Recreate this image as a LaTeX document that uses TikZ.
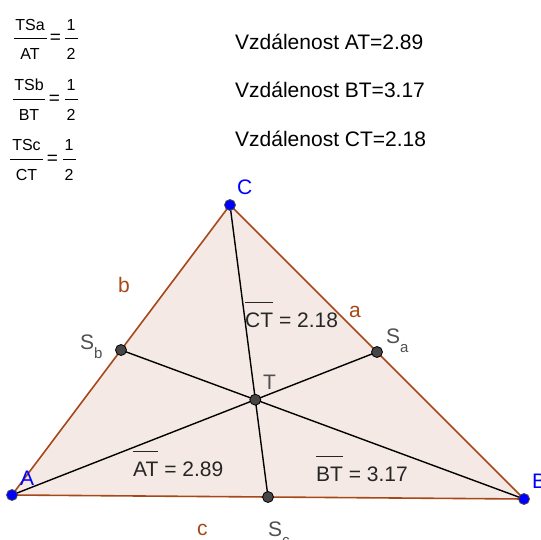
\documentclass[tikz,border=0pt]{standalone}
\usepackage{fontspec}
\setmainfont{Liberation Sans}
\usetikzlibrary{calc}
\definecolor{edgebrown}{RGB}{166,72,24}
\definecolor{fillpink}{RGB}{244,233,228}
\definecolor{ptblue}{RGB}{0,0,255}
\definecolor{ptgray}{RGB}{70,70,70}
\definecolor{lblgray}{RGB}{80,80,80}
\newcommand\myovl[1]{\setbox0\hbox{#1}\rlap{\rule[1.12em]{\wd0}{1pt}}\box0\relax}
\newcommand\mysub[1]{\raisebox{-0.45em}{\fontsize{15}{15}\selectfont #1}}
\tikzset{
  edge/.style={draw=edgebrown,line width=1.6pt},
  median/.style={draw=black,line width=1.4pt},
  vertexpt/.style={circle,fill=ptblue,draw=black!70,line width=0.8pt,inner sep=0pt,minimum size=11pt},
  midpt/.style={circle,fill=ptgray,draw=black,line width=0.8pt,inner sep=0pt,minimum size=11pt},
  lbl/.style={anchor=base west,inner sep=0pt,font=\fontsize{21}{24}\selectfont},
  vlabel/.style={lbl,text=ptblue},
  slabel/.style={lbl,text=lblgray},
  elabel/.style={lbl,text=edgebrown},
  dlabel/.style={lbl,text=black!85},
  infotext/.style={lbl,text=black},
  fractext/.style={anchor=base,inner sep=0pt,font=\fontsize{16}{17}\selectfont},
  fracrule/.style={draw=black,line width=1pt}
}
\begin{document}
\begin{tikzpicture}[x=1pt,y=-1pt]
\useasboundingbox (0,0) rectangle (540,540);
\fill[white] (0,0) rectangle (540,540);
% points
\coordinate (A) at (12,495);
\coordinate (B) at (524,499);
\coordinate (C) at (230,205);
\coordinate (T) at (255.3,399.7);
\coordinate (Sa) at ($(B)!0.5!(C)$);
\coordinate (Sb) at ($(A)!0.5!(C)$);
\coordinate (Sc) at ($(A)!0.5!(B)$);
% triangle
\fill[fillpink] (A) -- (B) -- (C) -- cycle;
\draw[edge] (A) -- (B);
\draw[edge] (B) -- (C);
\draw[edge] (C) -- (A);
% medians
\draw[median] (A) -- (Sa);
\draw[median] (B) -- (Sb);
\draw[median] (C) -- (Sc);
% point markers
\node[vertexpt] (pA) at (A) {};
\node[vertexpt] (pB) at (B) {};
\node[vertexpt] (pC) at (C) {};
\node[midpt] (pT) at (T) {};
\node[midpt] (pSa) at (Sa) {};
\node[midpt] (pSb) at (Sb) {};
\node[midpt] (pSc) at (Sc) {};
% labels
\node[vlabel] (lA) at (20,485) {A};
\node[vlabel] (lB) at (532,488) {B};
\node[vlabel] (lC) at (237,194) {C};
\node[slabel] (lT) at (263,389) {T};
\node[slabel] (lSa) at (386,343) {S\mysub{a}};
\node[slabel] (lSb) at (80,349) {S\mysub{b}};
\node[slabel] (lSc) at (268,536) {S\mysub{c}};
\node[elabel] (la) at (349,317) {a};
\node[elabel] (lb) at (118,292) {b};
\node[elabel] (lc) at (197,535) {c};
\node[dlabel] (dAT) at (133,476) {\myovl{AT} = 2.89};
\node[dlabel] (dBT) at (316,481) {\myovl{BT} = 3.17};
\node[dlabel] (dCT) at (245,327) {\myovl{CT} = 2.18};
% info texts
\node[infotext] (i1) at (235,50) {Vzdálenost AT=2.89};
\node[infotext] (i2) at (235,98) {Vzdálenost BT=3.17};
\node[infotext] (i3) at (235,147) {Vzdálenost CT=2.18};
% fractions
\node[fractext] (n1) at (30,31) {TSa};
\coordinate (r1a) at (14,39); \coordinate (r1b) at (47,39);
\draw[fracrule] (r1a) -- (r1b);
\node[fractext] (d1) at (30,60) {AT};
\node[fractext,anchor=center,font=\fontsize{19}{19}\selectfont] (e1) at (55.5,39) {=};
\node[fractext] (n1b) at (71,31) {1};
\coordinate (r1c) at (65,39); \coordinate (r1d) at (78,39);
\draw[fracrule] (r1c) -- (r1d);
\node[fractext] (d1b) at (71,60) {2};
%
\node[fractext] (n2) at (29,91) {TSb};
\coordinate (r2a) at (13,100); \coordinate (r2b) at (45,100);
\draw[fracrule] (r2a) -- (r2b);
\node[fractext] (d2) at (29,121) {BT};
\node[fractext,anchor=center,font=\fontsize{19}{19}\selectfont] (e2) at (54.5,100) {=};
\node[fractext] (n2b) at (71,91) {1};
\coordinate (r2c) at (65,100); \coordinate (r2d) at (78,100);
\draw[fracrule] (r2c) -- (r2d);
\node[fractext] (d2b) at (71,121) {2};
%
\node[fractext] (n3) at (26.5,150) {TSc};
\coordinate (r3a) at (10,160); \coordinate (r3b) at (43,160);
\draw[fracrule] (r3a) -- (r3b);
\node[fractext] (d3) at (26.5,180) {CT};
\node[fractext,anchor=center,font=\fontsize{19}{19}\selectfont] (e3) at (52.5,160) {=};
\node[fractext] (n3b) at (69,150) {1};
\coordinate (r3c) at (63,160); \coordinate (r3d) at (76,160);
\draw[fracrule] (r3c) -- (r3d);
\node[fractext] (d3b) at (69,180) {2};
\end{tikzpicture}
\end{document}
